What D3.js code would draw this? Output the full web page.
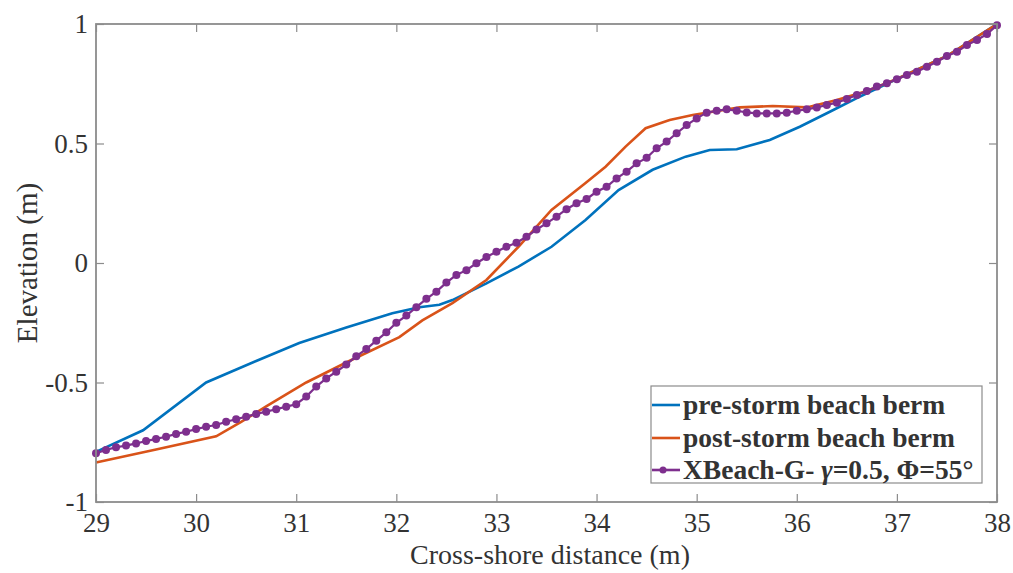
<!DOCTYPE html>
<html><head><meta charset="utf-8">
<script src="https://cdn.jsdelivr.net/npm/d3@7"></script>
<style>
html,body{margin:0;padding:0;background:#fff;}
svg{display:block;}
svg text{font-family:"Liberation Serif","Times New Roman",serif !important;fill:#333;}
</style></head>
<body>
<svg id="chart" width="1013" height="573" font-family="Liberation Serif"></svg>
<script>
// ---------- data ----------
const preX = [29.0,29.47,30.1,30.6,31.03,31.5,31.96,32.23,32.43,32.56,32.9,33.22,33.55,33.89,34.22,34.56,34.89,35.13,35.4,35.73,36.03,36.33,36.6,37.0,37.5,38.0];
const preY = [-0.79,-0.70,-0.50,-0.41,-0.335,-0.27,-0.21,-0.185,-0.175,-0.155,-0.085,-0.015,0.068,0.18,0.305,0.39,0.445,0.473,0.476,0.515,0.57,0.633,0.69,0.77,0.866,1.0];

const postX = [29.0,29.6,30.2,30.45,30.7,31.1,31.53,32.03,32.26,32.56,32.9,33.22,33.55,33.89,34.09,34.29,34.49,34.73,34.96,35.16,35.43,35.76,36.1,36.4,36.7,37.0,37.5,38.0];
const postY = [-0.835,-0.78,-0.725,-0.665,-0.60,-0.50,-0.41,-0.31,-0.24,-0.168,-0.071,0.068,0.222,0.335,0.403,0.487,0.564,0.598,0.619,0.633,0.651,0.657,0.651,0.682,0.72,0.77,0.866,1.0];

const xbX = [29.0,29.1,29.2,29.3,29.4,29.5,29.6,29.7,29.8,29.9,30.0,30.1,30.2,30.3,30.4,30.5,30.6,30.7,30.8,30.9,
  31.0,31.1,31.2,31.3,31.4,31.5,31.6,31.7,31.8,31.9,32.0,32.1,32.2,32.3,32.4,32.5,32.6,32.7,32.8,32.9,
  33.0,33.1,33.2,33.3,33.4,33.5,33.6,33.7,33.8,33.9,34.0,34.1,34.2,34.3,34.4,34.5,34.6,34.7,34.8,34.9,
  35.0,35.1,35.2,35.3,35.4,35.5,35.6,35.7,35.8,35.9,36.0,36.1,36.2,36.3,36.4,36.5,36.6,36.7,36.8,36.9,
  37.0,37.1,37.2,37.3,37.4,37.5,37.6,37.7,37.8,37.9,38.0];
const xbY = [-0.796,-0.782,-0.771,-0.764,-0.755,-0.745,-0.736,-0.727,-0.715,-0.706,-0.695,-0.685,-0.678,-0.664,-0.654,-0.643,-0.632,-0.622,-0.612,-0.601,
  -0.591,-0.559,-0.517,-0.483,-0.455,-0.425,-0.39,-0.36,-0.325,-0.29,-0.25,-0.22,-0.185,-0.15,-0.12,-0.082,-0.05,-0.03,-0.001,0.025,
  0.047,0.068,0.085,0.11,0.14,0.166,0.194,0.225,0.25,0.268,0.298,0.319,0.354,0.382,0.417,0.44,0.48,0.508,0.543,0.577,
  0.605,0.629,0.637,0.643,0.637,0.63,0.626,0.626,0.626,0.629,0.637,0.643,0.651,0.661,0.671,0.686,0.703,0.72,0.738,0.752,
  0.769,0.787,0.80,0.821,0.842,0.866,0.884,0.912,0.933,0.958,0.995];

const xTicks = [29,30,31,32,33,34,35,36,37,38];
const yTicks = [-1,-0.5,0,0.5,1];
const yTickLabels = ["-1","-0.5","0","0.5","1"];
const seriesNames = ["pre-storm beach berm","post-storm beach berm"];
const seriesColors = ["#0072BD","#D95319","#7E2F8E"];
const xTitle = "Cross-shore distance (m)";
const yTitle = "Elevation (m)";

// ---------- layout ----------
const L = 96, R = 997, T = 24, B = 502;
const FONT = "Liberation Serif, Times New Roman, serif";
const svg = d3.select("#chart");
const x = d3.scaleLinear().domain([29,38]).range([L,R]);
const y = d3.scaleLinear().domain([-1,1]).range([B,T]);
const axisColor = "#8c8c8c";
const tickLen = 8;

// series
const line = d3.line().x(d=>x(d[0])).y(d=>y(d[1]));
const pre = preX.map((v,i)=>[v,preY[i]]);
const post = postX.map((v,i)=>[v,postY[i]]);
const xb = xbX.map((v,i)=>[v,xbY[i]]);

const g = svg.append("g");
g.append("path").datum(pre).attr("d",line).attr("fill","none").attr("stroke",seriesColors[0]).attr("stroke-width",2.6);
g.append("path").datum(post).attr("d",line).attr("fill","none").attr("stroke",seriesColors[1]).attr("stroke-width",2.6);
g.append("path").datum(xb).attr("d",line).attr("fill","none").attr("stroke",seriesColors[2]).attr("stroke-width",2.2);
g.selectAll("circle.xb").data(xb).enter().append("circle").attr("class","xb")
  .attr("cx",d=>x(d[0])).attr("cy",d=>y(d[1])).attr("r",4).attr("fill",seriesColors[2]);

// axes (box with inward ticks)
const ax = svg.append("g");
const xB = d3.axisBottom(x).tickValues(xTicks).tickSize(-tickLen).tickPadding(11).tickFormat(d3.format("d"));
const xT = d3.axisTop(x).tickValues(xTicks).tickSize(-tickLen).tickFormat("");
const yL = d3.axisLeft(y).tickValues(yTicks).tickSize(-tickLen).tickPadding(8).tickFormat((d,i)=>yTickLabels[i]);
const yR = d3.axisRight(y).tickValues(yTicks).tickSize(-tickLen).tickFormat("");
function styleAxis(sel){
  sel.attr("font-family",FONT).attr("font-size",27);
  sel.select(".domain").attr("stroke",axisColor).attr("stroke-width",1.8);
  sel.selectAll(".tick line").attr("stroke",axisColor).attr("stroke-width",1.2);
  sel.selectAll(".tick text").attr("fill","#333");
}
ax.append("g").attr("transform",`translate(0,${B})`).call(xB).call(styleAxis);
ax.append("g").attr("transform",`translate(0,${T})`).call(xT).call(styleAxis);
ax.append("g").attr("transform",`translate(${L},0)`).call(yL).call(styleAxis);
ax.append("g").attr("transform",`translate(${R},0)`).call(yR).call(styleAxis);
ax.selectAll(".domain").attr("d",null);
svg.append("rect").attr("x",L).attr("y",T).attr("width",R-L).attr("height",B-T)
  .attr("fill","none").attr("stroke",axisColor).attr("stroke-width",1.8);

// titles
svg.append("text").attr("x",550).attr("y",564).attr("text-anchor","middle")
  .attr("font-family",FONT).attr("font-size",28).text(xTitle);
svg.append("text").attr("transform",`translate(37,${(T+B)/2}) rotate(-90)`).attr("text-anchor","middle")
  .attr("font-family",FONT).attr("font-size",29).text(yTitle);

// legend
const lg = svg.append("g");
const lx = 651, ly = 386, lw = 331, lh = 97;
lg.append("rect").attr("x",lx).attr("y",ly).attr("width",lw).attr("height",lh)
  .attr("fill","#fff").attr("stroke",axisColor).attr("stroke-width",1.2);
const rowY = [405,438,470];
const entries = [seriesNames[0],seriesNames[1],null];
rowY.forEach((ry,i)=>{
  lg.append("line").attr("x1",lx+1).attr("x2",lx+29).attr("y1",ry).attr("y2",ry)
    .attr("stroke",seriesColors[i]).attr("stroke-width",2.6);
  if(i===2) lg.append("circle").attr("cx",lx+12).attr("cy",ry).attr("r",3.5).attr("fill",seriesColors[2]);
  const t = lg.append("text").attr("x",lx+32).attr("y",ry+9)
    .attr("font-family",FONT).attr("font-size",27.5).attr("font-weight","bold").attr("fill","#222");
  if(entries[i]) t.text(entries[i]);
  else {
    t.append("tspan").text("XBeach-G- ");
    t.append("tspan").attr("font-style","italic").text("γ");
    t.append("tspan").text("=0.5, Φ=55°");
  }
});
</script>
</body></html>
